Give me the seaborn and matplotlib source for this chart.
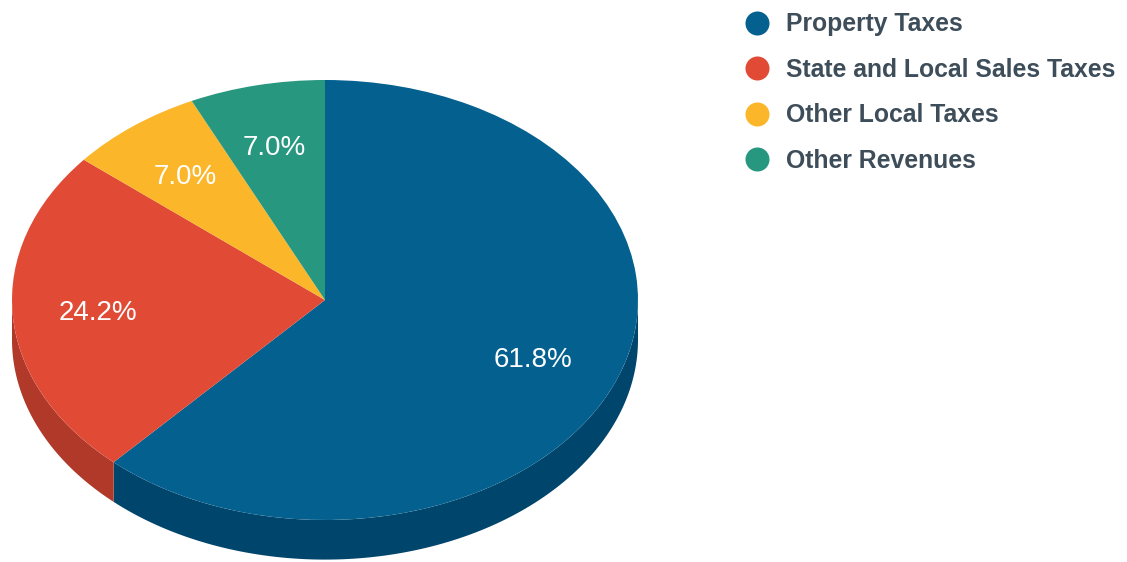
import numpy as np
import matplotlib
matplotlib.use("Agg")
import matplotlib.pyplot as plt
from matplotlib.lines import Line2D
from matplotlib.patches import Polygon
from matplotlib.transforms import offset_copy
import seaborn as sns

categories = ["Property Taxes", "State and Local Sales Taxes", "Other Local Taxes", "Other Revenues"]
shares = [61.8, 24.2, 7.0, 7.0]

top_colors = sns.color_palette(["#03608f", "#e14b36", "#fbb62a", "#28977f"])
side_colors = sns.color_palette(["#00456b", "#b0392a", "#c88f1f", "#1d7463"])

sns.set_theme(style="white")
plt.rcParams["font.family"] = ["Liberation Sans", "DejaVu Sans"]

W, H = 1127, 562
fig = plt.figure(figsize=(W / 100, H / 100), dpi=100)
ax = fig.add_axes([0, 0, 1, 1])

# top face of the tilted pie
wedges, _, autotexts = ax.pie(
    shares, colors=top_colors, startangle=90, counterclock=False,
    autopct="%.1f%%", pctdistance=0.72,
    wedgeprops=dict(linewidth=0, zorder=3),
    textprops=dict(color="white", fontsize=20, zorder=5),
)
for t in autotexts:
    t.set_transform(offset_copy(ax.transData, fig=fig, x=-2, y=-2.5, units="dots"))

# rim of the disc: visible where the arc lies in the lower half
depth = 0.18
for w, sc in zip(wedges, side_colors):
    t1, t2 = w.theta1, w.theta2
    for k in range(-2, 3):
        lo, hi = -180 + 360 * k, 0 + 360 * k
        a, b = max(t1, lo), min(t2, hi)
        if b > a:
            th = np.radians(np.linspace(a, b, 120))
            xs, ys = np.cos(th), np.sin(th)
            pts = np.concatenate([np.column_stack([xs, ys]),
                                  np.column_stack([xs[::-1], ys[::-1] - depth])])
            ax.add_patch(Polygon(pts, closed=True, facecolor=sc, edgecolor="none", zorder=1))

# stretch the disc into an ellipse (313 px wide radius, 220 px tall radius)
ax.set_aspect("auto")
rx, ry = 313, 220
cx, cy = 325, 300
ax.set_xlim(-cx / rx, (W - cx) / rx)
ax.set_ylim(-(H - cy) / ry, cy / ry)
ax.axis("off")

handles = [Line2D([], [], marker="o", linestyle="", markersize=17.3,
                  markerfacecolor=c, markeredgecolor="none") for c in top_colors]
leg = fig.legend(handles, categories, loc="upper left",
                 bbox_to_anchor=(722 / W, 1 + 10 / H), frameon=False,
                 handletextpad=0.67, labelspacing=0.87, handlelength=1.0,
                 prop=dict(family="Liberation Sans", weight="bold", size=17.8))
for t in leg.get_texts():
    t.set_color("#3d4d59")

fig.savefig("out.png", dpi=100)
